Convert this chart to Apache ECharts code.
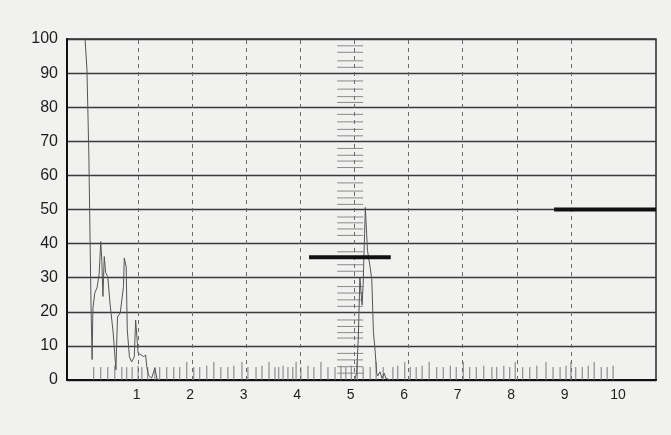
<!DOCTYPE html>
<html>
<head>
<meta charset="utf-8">
<script src="https://cdn.jsdelivr.net/npm/echarts@6/dist/echarts.min.js"></script>
<style>
html,body{margin:0;padding:0;background:#f1f1f0;}
#chart{width:671px;height:435px;}
</style>
</head>
<body>
<div id="chart"></div>
<script>
// ---- data ----
const yTicks = [0,10,20,30,40,50,60,70,80,90,100];
const xTickLabels = [1,2,3,4,5,6,7,8,9,10];
const dashedX = [1,2,3,4,5,6,7,8,9];

const trace1 = [[0.02,100],[0.055,91],[0.09,66],[0.13,22],[0.15,6],[0.165,21],[0.2,25.6],[0.24,27],[0.28,31],
  [0.31,40.6],[0.33,35],[0.35,24.5],[0.375,36.2],[0.4,31.5],[0.44,30.3],[0.48,22.6],[0.54,13.8],[0.59,3],
  [0.62,18.5],[0.67,19.7],[0.7,19.7],[0.73,27.4],[0.745,35.8],[0.78,33.2],[0.8,14.7],[0.84,6.8],[0.88,5.3],
  [0.93,6.8],[0.955,17.6],[0.985,17.6],[1.0,7.9],[1.035,7.9],[1.1,6.9],[1.14,7.3],[1.16,3.9],[1.19,1.5],
  [1.25,0.5],[1.31,3.5],[1.35,0.3],[1.4,0]];
const trace2 = [[5.0,0],[5.04,2],[5.07,12],[5.1,30],[5.13,30.5],[5.14,22],[5.16,28],[5.2,50.6],[5.24,38],
  [5.29,33],[5.32,29.4],[5.35,14],[5.38,8.8],[5.41,2],[5.43,1.2],[5.47,2.4],[5.51,0.5],[5.55,2],[5.58,0.5],[5.66,0]];

const bar1 = [[4.16,36],[5.67,36]];
const bar2 = [[8.69,50],[10.573,50]];

const rugX = [0.18,0.31,0.44,0.57,0.70,0.79,0.89,1.00,1.07,1.18,1.31,1.40,1.53,1.66,1.77,1.90,2.03,2.14,2.27,2.40,
  2.53,2.66,2.77,2.92,3.03,3.18,3.29,3.42,3.53,3.60,3.68,3.77,3.86,3.92,4.01,4.14,4.25,4.38,4.51,4.64,4.75,4.84,
  4.94,5.05,5.16,5.29,5.40,5.53,5.71,5.80,5.93,6.03,6.14,6.25,6.38,6.52,6.64,6.77,6.88,7.01,7.13,7.25,7.39,7.54,
  7.63,7.76,7.87,7.97,8.11,8.24,8.37,8.54,8.67,8.80,8.91,9.00,9.09,9.21,9.32,9.43,9.56,9.67,9.78];
const rugH = [3.8,3.8,3.8,4.2,3.8,3.8,3.8,4.2,3.8,3.8,3.8,3.8,3.8,3.8,3.8,5.3,3.8,3.8,4.2,5.3,
  3.8,3.8,4.2,5.3,3.8,3.8,4.2,5.3,3.8,3.8,4.2,3.8,3.8,5.3,3.8,4.2,3.8,5.3,3.8,3.8,4.2,3.8,
  4.2,5.3,3.8,3.8,5.3,3.8,3.8,4.2,5.3,3.8,3.8,4.2,5.3,3.8,3.8,4.2,3.8,5.3,3.8,3.8,4.2,3.8,
  3.8,4.2,3.8,5.3,3.8,3.8,4.2,5.3,3.8,3.8,4.2,5.3,3.8,3.8,4.2,5.3,3.8,3.8,4.2];

const ladderY = [98.0,96.1,93.6,91.7,87.7,85.3,83.1,81.4,77.9,75.7,73.5,71.6,67.9,65.9,64.2,62.3,
  57.8,55.4,53.4,51.5,47.8,46.1,44.3,42.4,37.6,35.7,33.8,31.9,27.4,25.5,23.5,21.6,17.6,15.7,13.9,12.3,
  7.8,5.9,3.9,2.0];
const ladderRange = [4.68, 5.16];

// ---- chart ----
const chart = echarts.init(document.getElementById('chart'), null, {renderer:'canvas'});
const FONT = '"Liberation Sans", Arial, sans-serif';

chart.setOption({
  animation: false,
  backgroundColor: '#f1f1f0',
  grid: {left: 67, right: 15, top: 39, bottom: 55, show: true, borderColor: '#2a2a2a', borderWidth: 1.5, backgroundColor: 'transparent'},
  xAxis: [
    {type: 'value', min: -0.314, max: 10.573,
     axisLine: {show: true, onZero: false, lineStyle: {color: '#111', width: 2}},
     axisTick: {show: false}, axisLabel: {show: false}, splitLine: {show: false}},
    {type: 'value', position: 'bottom', min: -0.303, max: 10.709,
     axisLine: {show: false, onZero: false}, axisTick: {show: false}, splitLine: {show: false},
     axisLabel: {show: true, customValues: xTickLabels, color: '#1e1e1e', fontSize: 14, fontFamily: FONT, margin: 8}}
  ],
  yAxis: {type: 'value', min: 0, max: 100, interval: 10,
    axisLine: {show: true, onZero: false, lineStyle: {color: '#111', width: 2}},
    axisTick: {show: false},
    axisLabel: {color: '#1e1e1e', fontSize: 16, fontFamily: FONT, margin: 9,
      formatter: v => yTicks.includes(v) ? String(v) : ''},
    splitLine: {show: true, lineStyle: {color: '#3a3a3a', width: 1.3}}},
  series: [
    {type: 'custom', name: 'ladder', xAxisIndex: 0, silent: true,
     data: ladderY.map(y => [ladderRange[0], y, ladderRange[1]]),
     encode: {x: [0, 2], y: 1},
     renderItem: (params, api) => {
       const p0 = api.coord([api.value(0), api.value(1)]);
       const p1 = api.coord([api.value(2), api.value(1)]);
       return {type: 'line', shape: {x1: p0[0], y1: p0[1], x2: p1[0], y2: p1[1]},
         style: {stroke: '#8a8a8a', lineWidth: 1}};
     }},
    {type: 'custom', name: 'rug', xAxisIndex: 0, silent: true,
     data: rugX.map((x, i) => [x, rugH[i]]),
     encode: {x: 0, y: 1},
     renderItem: (params, api) => {
       const p0 = api.coord([api.value(0), 0]);
       const p1 = api.coord([api.value(0), api.value(1)]);
       return {type: 'line', shape: {x1: p0[0], y1: p0[1], x2: p1[0], y2: p1[1]},
         style: {stroke: '#7a7a7a', lineWidth: 1}};
     }},
    {type: 'line', name: 'trace1', xAxisIndex: 0, data: trace1, showSymbol: false, symbol: 'none',
     lineStyle: {color: '#555', width: 1}, silent: true,
     markLine: {silent: true, symbol: ['none', 'none'], label: {show: false},
       lineStyle: {color: '#6a6a6a', width: 1, type: [4, 4]},
       data: dashedX.map(x => ({xAxis: x}))}},
    {type: 'line', name: 'trace2', xAxisIndex: 0, data: trace2, showSymbol: false, symbol: 'none',
     lineStyle: {color: '#555', width: 1}, silent: true},
    {type: 'line', name: 'bar1', xAxisIndex: 0, data: bar1, showSymbol: false, symbol: 'none',
     lineStyle: {color: '#111', width: 4}, silent: true, z: 5},
    {type: 'line', name: 'bar2', xAxisIndex: 0, data: bar2, showSymbol: false, symbol: 'none',
     lineStyle: {color: '#111', width: 4}, silent: true, z: 5}
  ]
});
</script>
</body>
</html>
